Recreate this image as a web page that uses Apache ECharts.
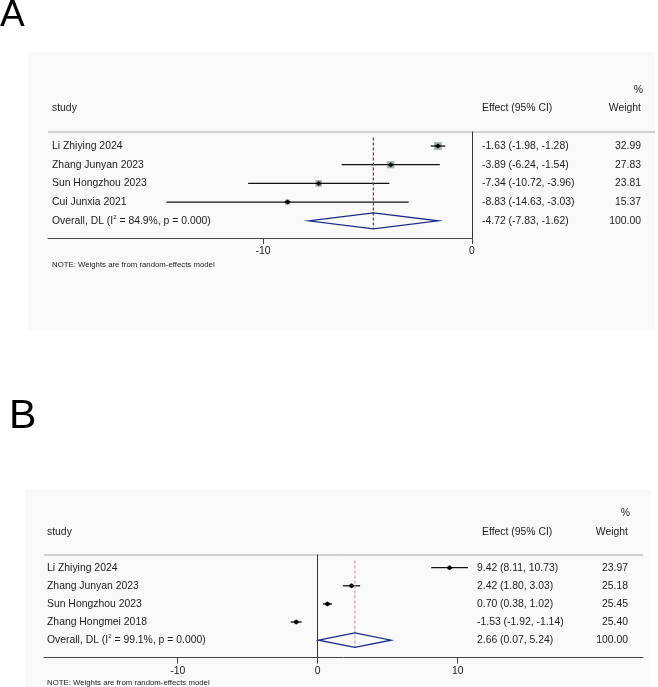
<!DOCTYPE html>
<html lang="en">
<head>
    <meta charset="UTF-8">
    <title>Forest plots</title>
    <script src="https://cdn.jsdelivr.net/npm/echarts@6/dist/echarts.min.js"></script>
    <style>
        html, body { margin: 0; padding: 0; background: #fff; }
        #main { width: 658px; height: 687px; }
    </style>
</head>
<body>
<div id="main"></div>
<script>
    // ---------- panel A data
    var studiesA = ['Li Zhiying 2024', 'Zhang Junyan 2023', 'Sun Hongzhou 2023', 'Cui Junxia 2021'];
    var effectA = [-1.63, -3.89, -7.34, -8.83];
    var lowerA = [-1.98, -6.24, -10.72, -14.63];
    var upperA = [-1.28, -1.54, -3.96, -3.03];
    var weightA = [32.99, 27.83, 23.81, 15.37];
    var overallA = [-4.72, -7.83, -1.62];
    var hetA = ['84.9%', '0.000'];
    var ticksA = [-10, 0];

    // ---------- panel B data
    var studiesB = ['Li Zhiying 2024', 'Zhang Junyan 2023', 'Sun Hongzhou 2023', 'Zhang Hongmei 2018'];
    var effectB = [9.42, 2.42, 0.70, -1.53];
    var lowerB = [8.11, 1.80, 0.38, -1.92];
    var upperB = [10.73, 3.03, 1.02, -1.14];
    var weightB = [23.97, 25.18, 25.45, 25.40];
    var overallB = [2.66, 0.07, 5.24];
    var hetB = ['99.1%', '0.000'];
    var ticksB = [-10, 0, 10];

    var FONT = '"Liberation Sans", Arial, Helvetica, sans-serif';
    var TXT = '#1c1c1c';
    var FS = 10.4;

    // layout of each panel (pixels / axis ranges)
    var layA = {
        grid: {left: 48, top: 132, width: 424, height: 106},
        xMin: -20.3, xMax: 0, yMin: -0.75, yMax: 4.92,
        labX: 52, effX: 482, wRight: 641, ruleRight: 655,
        boxK: 1.35, diamH: 8, dashTop: -0.45, dash: '#8e2f4c',
        headY: 108, pctY: 90, noteY: 265,
        bg: [28, 52, 627, 278], letter: 'A', letterX: 0, letterY: 16, letterSize: 37
    };
    var layB = {
        grid: {left: 44, top: 555, width: 599, height: 102.7},
        xMin: -19.55, xMax: 23.24, yMin: -0.70, yMax: 4.97,
        labX: 47, effX: 477, wRight: 628, ruleRight: 643,
        boxK: 0.85, diamH: 7.3, dashTop: -0.4, dash: '#c7a6b8',
        headY: 532, pctY: 513, noteY: 683,
        bg: [25, 490, 626, 197], letter: 'B', letterX: 9, letterY: 417, letterSize: 41
    };

    function fmt(e, l, u) {
        return e.toFixed(2) + ' (' + l.toFixed(2) + ', ' + u.toFixed(2) + ')';
    }

    function studyData(eff, low, up, w) {
        var out = [];
        for (var i = 0; i < eff.length; i++) {
            out.push([eff[i], low[i], up[i], w[i], i]);
        }
        return out;
    }

    function studyItem(lay) {
        return function (params, api) {
            var r = api.value(4);
            var c = api.coord([api.value(0), r]);
            var a = api.coord([api.value(1), r]);
            var b = api.coord([api.value(2), r]);
            var s = lay.boxK * Math.sqrt(api.value(3));
            return {
                type: 'group', children: [
                    {type: 'rect', shape: {x: c[0] - s / 2, y: c[1] - s / 2, width: s, height: s},
                        style: {fill: '#a3afaf'}},
                    {type: 'line', shape: {x1: a[0], y1: a[1], x2: b[0], y2: b[1]},
                        style: {stroke: '#111', lineWidth: 1.3}},
                    {type: 'polygon', shape: {points: [[c[0] - 3, c[1]], [c[0], c[1] - 2.5], [c[0] + 3, c[1]], [c[0], c[1] + 2.5]]},
                        style: {fill: '#000'}}
                ]
            };
        };
    }

    function overallItem(lay) {
        return function (params, api) {
            var e = api.value(0), r = api.value(3);
            var c = api.coord([e, r]);
            var a = api.coord([api.value(1), r]);
            var b = api.coord([api.value(2), r]);
            var t = api.coord([e, lay.dashTop]);
            return {
                type: 'group', children: [
                    {type: 'line', shape: {x1: t[0], y1: t[1], x2: c[0], y2: c[1] + lay.diamH},
                        style: {stroke: lay.dash, lineWidth: 1.3, lineDash: [3, 2]}},
                    {type: 'polygon', shape: {points: [a, [c[0], c[1] - lay.diamH], b, [c[0], c[1] + lay.diamH]]},
                        style: {fill: 'none', stroke: '#1b2a86', lineWidth: 1.3}}
                ]
            };
        };
    }

    function textItem(lay, names, eff, low, up, w, ov, het) {
        return function (params, api) {
            var i = params.dataIndex;
            var y = api.coord([0, api.value(1)])[1];
            var isOv = i === names.length;
            var label = isOv
                ? '{n|Overall, DL (I}{s|2}{n| = ' + het[0] + ', p = ' + het[1] + ')}'
                : names[i];
            var effTxt = isOv ? fmt(ov[0], ov[1], ov[2]) : fmt(eff[i], low[i], up[i]);
            var wTxt = isOv ? '100.00' : w[i].toFixed(2);
            var base = {fill: TXT, fontSize: FS, fontFamily: FONT, verticalAlign: 'middle'};
            return {
                type: 'group', children: [
                    {type: 'text', x: lay.labX, y: y, style: Object.assign({}, base, {
                        text: label, align: 'left',
                        rich: {
                            n: {fontSize: FS, fontFamily: FONT, fill: TXT, lineHeight: 13},
                            s: {fontSize: 6, fontFamily: FONT, fill: TXT, verticalAlign: 'top', lineHeight: 13}
                        }
                    })},
                    {type: 'text', x: lay.effX, y: y, style: Object.assign({}, base, {text: effTxt, align: 'left'})},
                    {type: 'text', x: lay.wRight, y: y, style: Object.assign({}, base, {text: wTxt, align: 'right'})}
                ]
            };
        };
    }

    function axes(lay, ticks, idx) {
        var x = {
            type: 'value', gridIndex: idx, min: lay.xMin, max: lay.xMax, position: 'bottom',
            axisLine: {show: true, onZero: false, lineStyle: {color: '#444', width: 1}},
            axisTick: {show: true, length: 6, customValues: ticks, lineStyle: {color: '#444'}},
            axisLabel: {customValues: ticks, color: TXT, fontSize: FS, fontFamily: FONT, margin: 8},
            splitLine: {show: false}
        };
        var y = {
            type: 'value', gridIndex: idx, min: lay.yMin, max: lay.yMax, inverse: true,
            axisLine: {show: true, onZero: true, lineStyle: {color: '#333', width: 1}},
            axisTick: {show: false}, axisLabel: {show: false}, splitLine: {show: false}
        };
        return [x, y];
    }

    function panelGraphics(lay) {
        var g = lay.grid;
        var base = {fill: TXT, fontFamily: FONT, fontSize: FS, verticalAlign: 'middle'};
        return [
            {type: 'rect', z: -10, shape: {x: lay.bg[0], y: lay.bg[1], width: lay.bg[2], height: lay.bg[3]},
                style: {fill: '#f9f9f9'}},
            {type: 'text', x: lay.letterX, y: lay.letterY, style: {text: lay.letter, fill: '#000',
                fontFamily: FONT, fontSize: lay.letterSize, verticalAlign: 'middle'}},
            {type: 'line', shape: {x1: g.left, y1: g.top, x2: lay.ruleRight, y2: g.top},
                style: {stroke: '#a8a8a8', lineWidth: 1}},
            {type: 'text', x: lay.labX, y: lay.headY, style: Object.assign({}, base, {text: 'study'})},
            {type: 'text', x: 482, y: lay.headY, style: Object.assign({}, base, {text: 'Effect (95% CI)'})},
            {type: 'text', x: lay.wRight, y: lay.headY, style: Object.assign({}, base, {text: 'Weight', align: 'right'})},
            {type: 'text', x: lay.wRight + 2, y: lay.pctY, style: Object.assign({}, base, {text: '%', align: 'right'})},
            {type: 'text', x: lay.labX, y: lay.noteY, style: Object.assign({}, base,
                {text: 'NOTE: Weights are from random-effects model', fontSize: 7.8})}
        ];
    }

    var axA = axes(layA, ticksA, 0);
    var axB = axes(layB, ticksB, 1);
    var rowsA = [[0, 0], [0, 1], [0, 2], [0, 3], [0, 4]];
    var rowsB = [[0, 0], [0, 1], [0, 2], [0, 3], [0, 4]];

    var myChart = echarts.init(document.getElementById('main'), null, {renderer: 'canvas'});
    var option = {
        animation: false,
        backgroundColor: '#fff',
        grid: [layA.grid, layB.grid],
        xAxis: [axA[0], axB[0]],
        yAxis: [axA[1], axB[1]],
        graphic: panelGraphics(layA).concat(panelGraphics(layB)),
        series: [
            {type: 'custom', xAxisIndex: 0, yAxisIndex: 0, renderItem: studyItem(layA),
                data: studyData(effectA, lowerA, upperA, weightA)},
            {type: 'custom', xAxisIndex: 0, yAxisIndex: 0, renderItem: overallItem(layA),
                data: [[overallA[0], overallA[1], overallA[2], studiesA.length]]},
            {type: 'custom', xAxisIndex: 0, yAxisIndex: 0,
                renderItem: textItem(layA, studiesA, effectA, lowerA, upperA, weightA, overallA, hetA), data: rowsA},
            {type: 'custom', xAxisIndex: 1, yAxisIndex: 1, renderItem: studyItem(layB),
                data: studyData(effectB, lowerB, upperB, weightB)},
            {type: 'custom', xAxisIndex: 1, yAxisIndex: 1, renderItem: overallItem(layB),
                data: [[overallB[0], overallB[1], overallB[2], studiesB.length]]},
            {type: 'custom', xAxisIndex: 1, yAxisIndex: 1,
                renderItem: textItem(layB, studiesB, effectB, lowerB, upperB, weightB, overallB, hetB), data: rowsB}
        ]
    };
    myChart.setOption(option);
</script>
</body>
</html>
